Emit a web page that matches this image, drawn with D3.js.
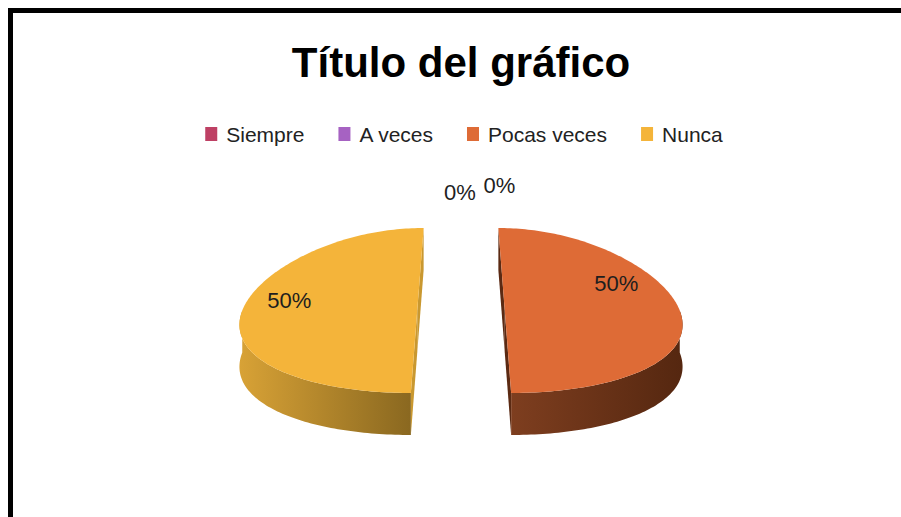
<!DOCTYPE html>
<html>
<head>
<meta charset="utf-8">
<script src="https://cdn.jsdelivr.net/npm/d3@7"></script>
<style>
  html, body { margin: 0; padding: 0; background: #fff; }
  svg { display: block; font-family: "Liberation Sans", Arial, sans-serif; }
</style>
</head>
<body>
<svg width="901" height="517"></svg>
<script>
const categories = ["Siempre", "A veces", "Pocas veces", "Nunca"];
const values = [0, 0, 50, 50];
const topColors = ["#BE4064", "#A662C2", "#DE6B36", "#F4B43A"];
const sideFrom = ["#8E2F4A", "#7C4892", "#7E3E1F", "#D8A236"];
const sideTo = ["#5E1F31", "#523060", "#552710", "#8A6820"];
const cutColors = ["#7A2840", "#6A3C7E", "#5B2A13", "#C99830"];
// label angle tweak (degrees) so the text sits like the original
const labelTurn = [0, 0, -26, 9.5];

const svg = d3.select("svg"),
    width = +svg.attr("width"),
    height = +svg.attr("height");

// chart frame
svg.append("rect")
    .attr("x", 10.5).attr("y", 10.5)
    .attr("width", width + 40).attr("height", height + 40)
    .attr("fill", "#fff")
    .attr("stroke", "#000")
    .attr("stroke-width", 5);

svg.append("text")
    .attr("x", 461)
    .attr("y", 77)
    .attr("text-anchor", "middle")
    .attr("font-size", "42px")
    .attr("font-weight", "bold")
    .attr("fill", "#000")
    .text("Título del gráfico");

// legend
const legendGap = 34;
const legend = svg.append("g").attr("font-size", "21px");
const items = legend.selectAll("g")
  .data(categories)
  .enter().append("g");
items.append("rect")
    .attr("y", 127)
    .attr("width", 12)
    .attr("height", 14)
    .attr("fill", (d, i) => topColors[i]);
items.append("text")
    .attr("x", 21)
    .attr("y", 142)
    .attr("fill", "#222")
    .text(d => d);
let lx = 0;
const offs = [];
items.each(function() {
  offs.push(lx);
  lx += 21 + this.querySelector("text").getComputedTextLength() + legendGap;
});
const legendW = lx - legendGap;
items.attr("transform", (d, i) => `translate(${464 - legendW / 2 + offs[i]},0)`);

// 3d pie geometry
const cx = 461, cy = 310.5, rx = 175, ry = 82.5, depth = 42;
const persp = 0.146, explode = 0.25;

const x = d3.scaleLinear().domain([-1, 1]).range([cx - rx, cx + rx]);
const y = d3.scaleLinear().domain([-1, 1]).range([cy + ry, cy - ry]);

function proj(u, v, h) {
  return [x(u * (1 - persp * v)), y(v) + h * depth];
}

const arcs = d3.pie().sort(null).value(d => d)(values);
arcs.forEach(a => {
  const mid = (a.startAngle + a.endAngle) / 2;
  a.ou = explode * Math.sin(mid);
  a.ov = explode * Math.cos(mid);
});

function pt(a, ang, r, h) {
  return proj(a.ou + r * Math.sin(ang), a.ov + r * Math.cos(ang), h);
}

function arcPts(a, a0, a1, r, h) {
  const n = Math.max(2, Math.ceil((a1 - a0) / 0.02));
  return d3.range(n + 1).map(k => pt(a, a0 + (a1 - a0) * k / n, r, h));
}

const line = d3.line().curve(d3.curveLinear);
const defs = svg.append("defs");
const pie = svg.append("g");

arcs.forEach((a, i) => {
  if (a.value === 0) return;
  const g = pie.append("g");

  // cut faces
  [a.startAngle, a.endAngle].forEach(ang => {
    const quad = [pt(a, ang, 0, 0), pt(a, ang, 1, 0), pt(a, ang, 1, 1), pt(a, ang, 0, 1)];
    g.append("path")
        .attr("d", line(quad) + "Z")
        .attr("fill", cutColors[i]);
  });

  // outer side, only the near half shows
  const s0 = Math.max(a.startAngle, Math.PI / 2);
  const s1 = Math.min(a.endAngle, Math.PI * 1.5);
  if (s1 > s0) {
    const topEdge = arcPts(a, s0, s1, 1, 0);
    const botEdge = arcPts(a, s0, s1, 1, 1).reverse();
    const xs = topEdge.map(p => p[0]);
    const grad = defs.append("linearGradient")
        .attr("id", "side" + i)
        .attr("gradientUnits", "userSpaceOnUse")
        .attr("x1", d3.min(xs)).attr("x2", d3.max(xs))
        .attr("y1", 0).attr("y2", 0);
    grad.append("stop").attr("offset", 0).attr("stop-color", sideFrom[i]);
    grad.append("stop").attr("offset", 1).attr("stop-color", sideTo[i]);
    g.append("path")
        .attr("d", line(topEdge.concat(botEdge)) + "Z")
        .attr("fill", `url(#side${i})`);
  }

  // top face
  const face = [pt(a, 0, 0, 0)].concat(arcPts(a, a.startAngle, a.endAngle, 1, 0));
  g.append("path")
      .attr("d", line(face) + "Z")
      .attr("fill", topColors[i]);
});

// data labels
const fmt = d3.format(".0%");
const total = d3.sum(values);
let zeroCount = 0;
arcs.forEach((a, i) => {
  let px, py;
  if (a.value === 0) {
    px = cx - 1 + zeroCount * 39.5;
    py = y(1) - 36 - zeroCount * 7;
    zeroCount++;
  } else {
    const mid = (a.startAngle + a.endAngle) / 2 + labelTurn[i] * Math.PI / 180;
    [px, py] = pt(a, mid, 0.76, 0);
  }
  svg.append("text")
      .attr("x", px)
      .attr("y", py)
      .attr("dy", "0.36em")
      .attr("text-anchor", "middle")
      .attr("font-size", "22px")
      .attr("fill", "#1e1e1e")
      .text(fmt(a.value / total));
});
</script>
</body>
</html>
